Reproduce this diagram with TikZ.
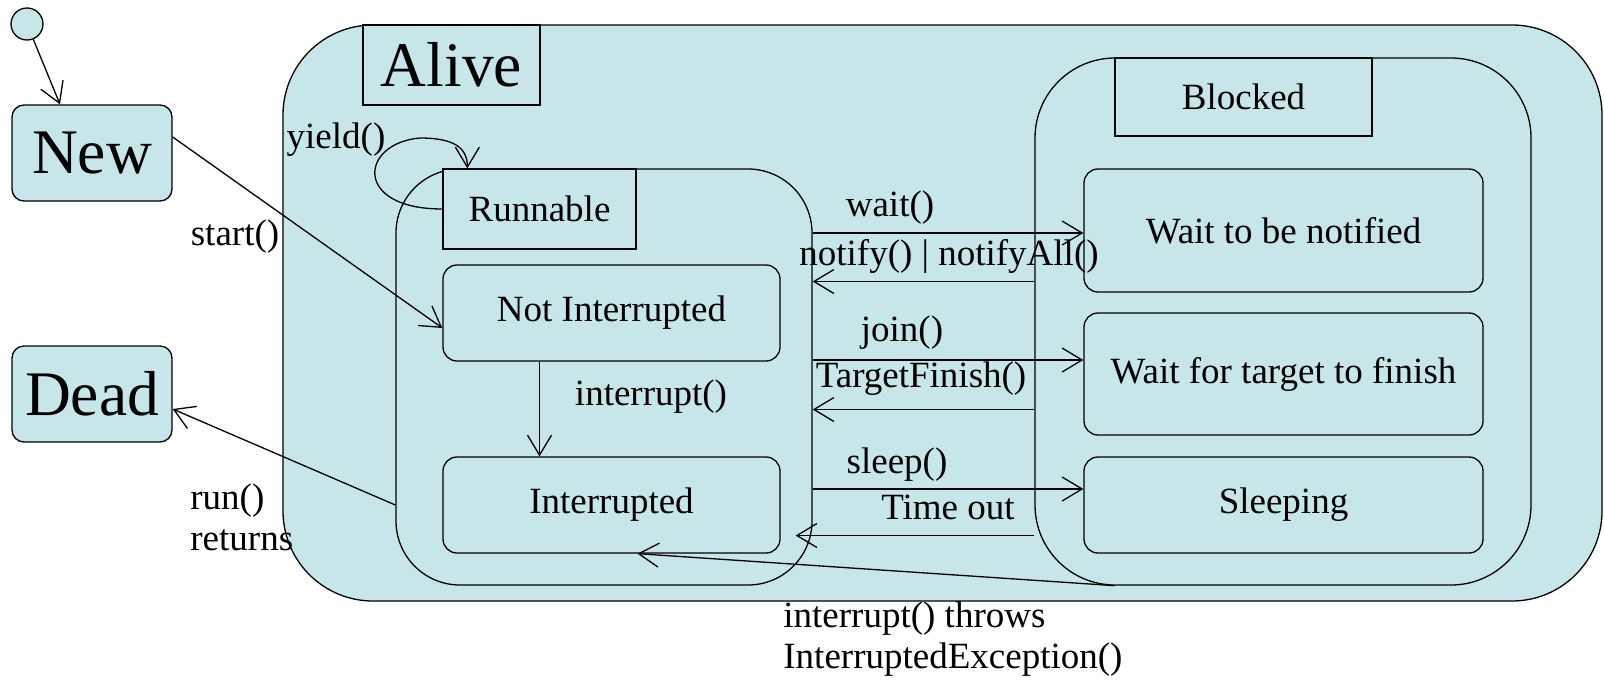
\documentclass[tikz,border=0pt]{standalone}
\usepackage{fontspec}
\setmainfont{Liberation Serif}
\usetikzlibrary{shapes.geometric, arrows.meta, calc}
\definecolor{stateblue}{RGB}{198,230,233}
\tikzstyle{region} = [
    rectangle,
    draw=black,
    fill=stateblue,
    line width=0.65pt,
    inner sep=0pt
]
\tikzstyle{tabbox} = [
    rectangle,
    draw=black,
    fill=stateblue,
    line width=0.65pt,
    inner sep=0pt,
    font=\fontsize{18.5}{20}\selectfont
]
\tikzstyle{bigstate} = [
    rectangle,
    rounded corners=6pt,
    minimum width=80pt,
    minimum height=48pt,
    draw=black,
    fill=stateblue,
    line width=0.65pt,
    font=\fontsize{31.75}{34}\selectfont
]
\tikzstyle{substate} = [
    rectangle,
    rounded corners=7pt,
    minimum width=168.5pt,
    minimum height=48pt,
    draw=black,
    fill=stateblue,
    line width=0.65pt,
    font=\fontsize{18.5}{20}\selectfont
]
\tikzstyle{waitstate} = [substate, minimum width=199.5pt]
\tikzstyle{event} = [inner sep=0pt, font=\fontsize{18.5}{20.5}\selectfont]
\tikzstyle{arrow} = [line width=0.65pt, -{Straight Barb[length=10pt, width=12pt]}]
\begin{document}
\begin{tikzpicture}[x=0.5pt, y=-0.5pt]
\useasboundingbox (0,0) rectangle (1604,686);

% composite states
\node (alive) [region, rounded corners=45pt, minimum width=659.5pt, minimum height=288pt] at (942.5,313) {};
\node (runnable) [region, rounded corners=32pt, minimum width=208pt, minimum height=208pt] at (604,377) {};
\node (blocked) [region, rounded corners=40pt, minimum width=248pt, minimum height=263.5pt] at (1283,321.5) {};

\node (alivetab) [tabbox, minimum width=88.5pt, minimum height=40pt, font=\fontsize{31.75}{34}\selectfont] at (451.5,65) {Alive};
\node (runtab) [tabbox, minimum width=96.5pt, minimum height=40pt] at (539.5,209) {Runnable};
\node (blocktab) [tabbox, minimum width=128.5pt, minimum height=39pt] at (1243.5,97) {Blocked};

% simple states
\node (init) [circle, draw=black, fill=stateblue, minimum size=16pt, inner sep=0pt, line width=0.65pt] at (27,24) {};
\node (new) [bigstate] at (92,153) {New};
\node (dead) [bigstate] at (92,394) {Dead};
\node (notint) [substate] at (611.5,313) {Not Interrupted};
\node (intr) [substate] at (611.5,505) {Interrupted};
\node (waitnot) [waitstate, minimum height=61.5pt] at (1283.5,230.5) {Wait to be notified};
\node (waittgt) [waitstate, minimum height=61pt] at (1283.5,374) {Wait for target to finish};
\node (sleeping) [waitstate] at (1283.5,505) {Sleeping};

% transitions
\draw [arrow] (init) -- ([xshift=-16pt]new.north);
\draw [arrow] ([yshift=8pt]new.east) -- ([yshift=-7.5pt]notint.west);
\draw [arrow] ([yshift=-64pt]runnable.west) -- ([yshift=-7.5pt]dead.east);
\draw [arrow] ([xshift=-36pt]notint.south) -- ([xshift=-36pt]intr.north);
\coordinate (yieldtop) at (420,138);
\draw [arrow] (runtab.west) .. controls +(-90,0) and +(-60,5) .. (yieldtop)
    .. controls +(35,0) and +(0,-20) .. ([xshift=12.5pt]runtab.north west);

\coordinate (waitin) at ([yshift=72pt]runnable.east);
\draw [arrow] (waitin) -- (waitin -| waitnot.west);
\coordinate (notifyout) at ([yshift=20pt]blocked.west);
\draw [arrow] (notifyout) -- (notifyout -| runnable.east);
\coordinate (joinin) at ([yshift=8.5pt]runnable.east);
\draw [arrow] (joinin) -- (joinin -| waittgt.west);
\coordinate (finishout) at ([yshift=-44pt]blocked.west);
\draw [arrow] (finishout) -- (finishout -| runnable.east);
\coordinate (sleepin) at ([yshift=-56pt]runnable.east);
\draw [arrow] (sleepin) -- (sleepin -| sleeping.west);
\coordinate (timeout) at ([yshift=-107pt]blocked.west);
\draw [arrow] (timeout) -- ($(timeout -| runnable.east)+(-17,0)$);
\draw [arrow] ([xshift=40pt]blocked.south west) -- ([xshift=13pt]intr.south);

% labels
\node (lstart) [event] at (235,237) {start()};
\node (lyield) [event] at (336,140) {yield()};
\node (lintr) [event] at (651,397) {interrupt()};
\node (lrun) [event, anchor=west, align=left] at (190,517) {run()\\returns};
\node (lwait) [event] at (890,208) {wait()};
\node (lnotify) [event] at (949,256) {notify() | notifyAll()};
\node (ljoin) [event] at (902,333) {join()};
\node (lfinish) [event] at (921,379) {TargetFinish()};
\node (lsleep) [event] at (897,465) {sleep()};
\node (ltimeout) [event] at (948,507) {Time out};
\node (lthrows) [event, anchor=west, align=left] at (783,639) {interrupt() throws\\InterruptedException()};

\end{tikzpicture}
\end{document}
